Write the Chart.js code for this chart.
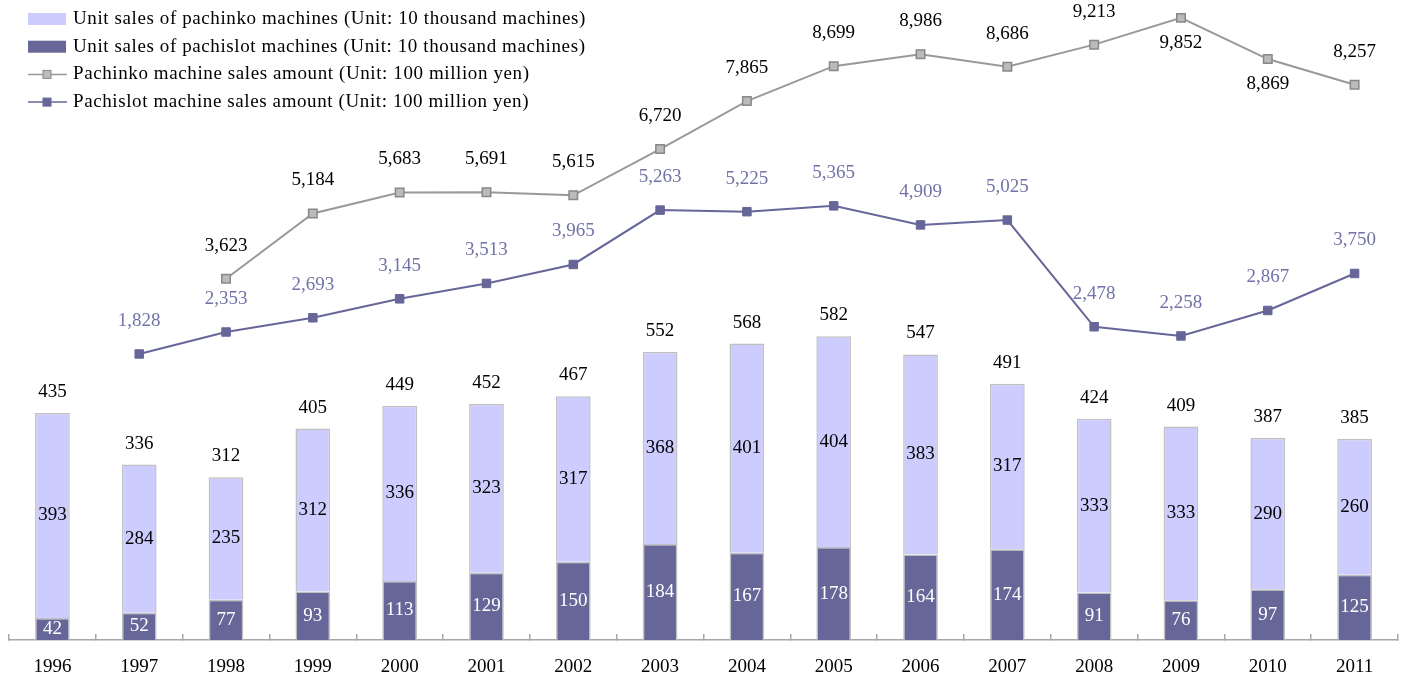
<!DOCTYPE html>
<html>
<head>
<meta charset="utf-8">
<script src="https://cdn.jsdelivr.net/npm/chart.js@4.4.1/dist/chart.umd.min.js"></script>
<style>
  html, body { margin: 0; padding: 0; background: #fff; }
</style>
</head>
<body>
<canvas id="salesChart" width="1406" height="678"></canvas>
<script>
// ===== DATA =====
const years = ['1996','1997','1998','1999','2000','2001','2002','2003','2004','2005','2006','2007','2008','2009','2010','2011'];
const pachinkoUnits  = [393, 284, 235, 312, 336, 323, 317, 368, 401, 404, 383, 317, 333, 333, 290, 260];
const pachislotUnits = [42, 52, 77, 93, 113, 129, 150, 184, 167, 178, 164, 174, 91, 76, 97, 125];
const pachinkoAmount  = [null, null, 3623, 5184, 5683, 5691, 5615, 6720, 7865, 8699, 8986, 8686, 9213, 9852, 8869, 8257];
const pachislotAmount = [null, 1828, 2353, 2693, 3145, 3513, 3965, 5263, 5225, 5365, 4909, 5025, 2478, 2258, 2867, 3750];
const pachinkoLabelBelow = ['2009', '2010'];

const FONT = "'Liberation Serif', 'Times New Roman', serif";
const fmt = v => v.toLocaleString('en-US');

// legend drawn on the canvas, upper left over the plot (order as in the original)
const legendOrder = [1, 0, 2, 3];
const cornerLegend = {
  id: 'cornerLegend',
  afterDraw(chart) {
    const { ctx } = chart;
    const x0 = 28, y0 = 19, step = 27.7;
    ctx.save();
    ctx.font = '19px ' + FONT;
    ctx.textBaseline = 'middle';
    legendOrder.forEach((di, row) => {
      const ds = chart.data.datasets[di];
      const y = y0 + row * step;
      if (ds.type === 'line') {
        ctx.strokeStyle = ds.borderColor;
        ctx.lineWidth = 1.5;
        ctx.beginPath(); ctx.moveTo(x0, y); ctx.lineTo(x0 + 39, y); ctx.stroke();
        ctx.fillStyle = ds.pointBackgroundColor;
        ctx.strokeStyle = ds.pointBorderColor;
        ctx.lineWidth = 1;
        ctx.fillRect(x0 + 15, y - 4, 8, 8);
        ctx.strokeRect(x0 + 15, y - 4, 8, 8);
      } else {
        ctx.fillStyle = ds.backgroundColor;
        ctx.fillRect(x0, y - 6, 38, 12);
      }
      ctx.fillStyle = '#000';
      ctx.letterSpacing = '0.6px';
      ctx.fillText(ds.label, x0 + 45, y);
      ctx.letterSpacing = '0px';
    });
    ctx.restore();
  }
};

// value labels for bars, totals and lines
const valueLabels = {
  id: 'valueLabels',
  afterDatasetsDraw(chart) {
    const { ctx } = chart;
    ctx.save();
    ctx.font = '19px ' + FONT;
    ctx.textAlign = 'center';
    ctx.textBaseline = 'middle';
    chart.data.datasets.forEach((ds, di) => {
      const meta = chart.getDatasetMeta(di);
      meta.data.forEach((el, i) => {
        const v = ds.data[i];
        if (v == null) return;
        if (ds.type === 'line') {
          const below = di === 2 && pachinkoLabelBelow.includes(years[i]);
          ctx.fillStyle = di === 3 ? '#7272a8' : '#000';
          ctx.fillText(fmt(v), el.x, below ? el.y + 25 : el.y - 33);
        } else {
          ctx.fillStyle = di === 0 ? '#fff' : '#000';
          ctx.fillText(fmt(v), el.x, (el.y + el.base) / 2);
          if (di === 1) {
            ctx.fillStyle = '#000';
            ctx.fillText(fmt(v + pachislotUnits[i]), el.x, el.y - 21);
          }
        }
      });
    });
    ctx.restore();
  }
};

new Chart(document.getElementById('salesChart'), {
  data: {
    labels: years,
    datasets: [
      {
        type: 'bar', label: 'Unit sales of pachislot machines (Unit: 10 thousand machines)',
        data: pachislotUnits, stack: 'units', yAxisID: 'y', order: 3,
        backgroundColor: '#666699', borderColor: '#c0c0c0', borderWidth: 1.5,
        barPercentage: 0.4, categoryPercentage: 1
      },
      {
        type: 'bar', label: 'Unit sales of pachinko machines (Unit: 10 thousand machines)',
        data: pachinkoUnits, stack: 'units', yAxisID: 'y', order: 4,
        backgroundColor: '#ccccff', borderColor: '#c0c0c0', borderWidth: 1.5,
        barPercentage: 0.4, categoryPercentage: 1
      },
      {
        type: 'line', label: 'Pachinko machine sales amount (Unit: 100 million yen)',
        data: pachinkoAmount, yAxisID: 'yLine', order: 1,
        borderColor: '#999999', borderWidth: 2,
        pointStyle: 'rect', pointRadius: 6, pointBackgroundColor: '#bbbbbb', pointBorderColor: '#888888', pointBorderWidth: 1.5
      },
      {
        type: 'line', label: 'Pachislot machine sales amount (Unit: 100 million yen)',
        data: pachislotAmount, yAxisID: 'yLine', order: 2,
        borderColor: '#666699', borderWidth: 2,
        pointStyle: 'rect', pointRadius: 6, pointBackgroundColor: '#666699', pointBorderColor: '#666699', pointBorderWidth: 1
      }
    ]
  },
  options: {
    responsive: false,
    animation: false,
    layout: { padding: { left: 9, right: 8, top: 10, bottom: 0 } },
    plugins: { legend: { display: false }, tooltip: { enabled: false } },
    scales: {
      x: {
        stacked: true,
        afterFit: scale => { scale.height = 38; },
        grid: { drawOnChartArea: false, color: '#a6a6a6', tickLength: -6, lineWidth: 1.5 },
        border: { color: '#a6a6a6', width: 1.5 },
        ticks: { color: '#000', font: { family: FONT, size: 19 }, padding: 22 }
      },
      y: { display: false, stacked: true, min: 0, max: 1207 },
      yLine: { display: false, min: -5000, max: 10040 }
    }
  },
  plugins: [cornerLegend, valueLabels]
});
</script>
</body>
</html>
